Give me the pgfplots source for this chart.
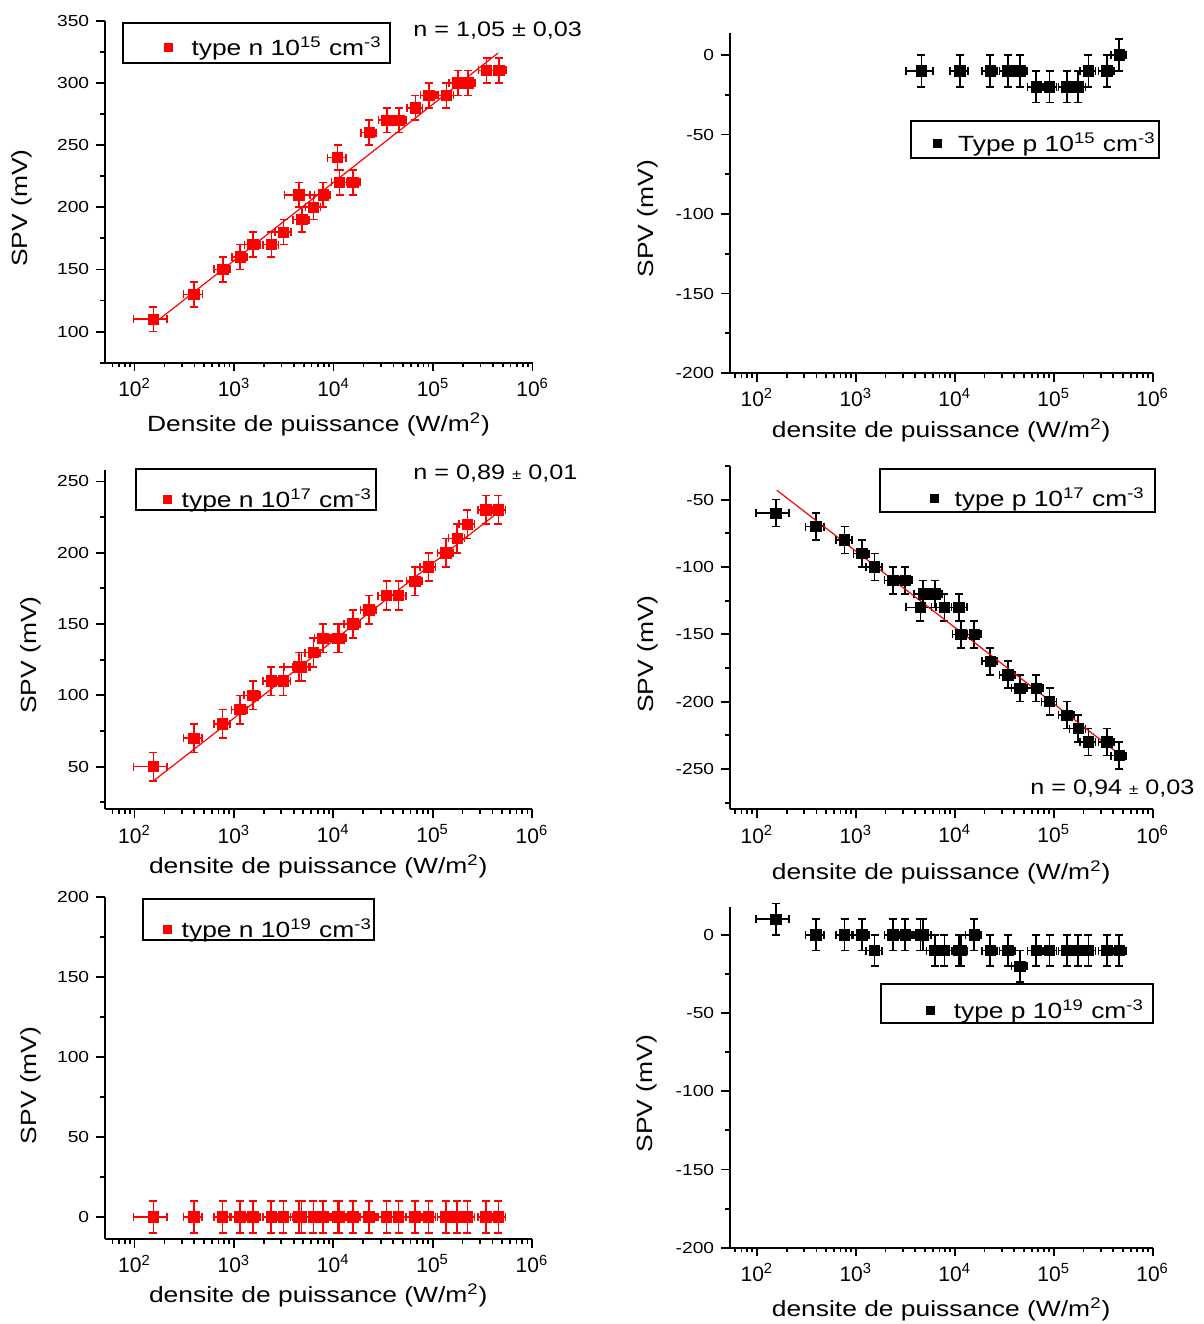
\documentclass[border=0pt]{standalone}
\usepackage{fontspec}
\setmainfont{Liberation Sans}[FakeStretch=1.2]
\newfontfamily\tickfont{Liberation Sans}
\usepackage{pgfplots}
\usepackage{pgfplotstable}
\pgfplotsset{compat=1.18}

% x, x error, SPV for n 1e15 (a), n 1e17 (c), p 1e17 (d), n 1e19 (e), p 1e19 (f)
\pgfplotstableread{
x ex ya yc yd ye yf
155 57 110 50 -60 0 10
395 85 130 70 -70 0 0
770 140 150 80 -80 0 0
1150 200 160 90 -90 0 0
1550 280 170 100 -100 0 -10
2370 420 170 110 -110 0 0
3150 560 180 110 -110 0 0
4500 1300 210 120 -130 0 0
4800 900 190 120 -120 0 0
6300 1100 200 130 -120 0 -10
7850 1400 210 140 -130 0 -10
11000 2300 240 140 -130 0 -10
11500 2000 220 140 -150 0 -10
15700 2800 220 150 -150 0 0
22800 4000 260 160 -170 0 -10
34500 6200 270 170 -180 0 -10
45500 8200 270 170 -190 0 -20
66500 12000 280 180 -190 0 -10
91000 16000 290 190 -200 0 -10
136000 24000 290 200 -210 0 -10
177000 32000 300 210 -220 0 -10
224000 40000 300 220 -230 0 -10
345000 60000 310 230 -230 0 -10
460000 80000 310 230 -240 0 -10
}\tmain
% p 1e15
\pgfplotstableread{
x ex y
4600 1400 -10
11300 2300 -10
22800 4000 -10
34500 6200 -10
45500 8200 -10
66500 12000 -20
91000 16000 -20
136000 24000 -20
177000 32000 -20
224000 40000 -10
345000 60000 -10
460000 80000 0
}\tpb

\pgfplotsset{every axis/.append style={
    scale only axis,
    axis lines=left,
    axis line style={line width=1pt,-},
    tick style={line width=0.9pt, black},
    tick align=outside,
    major tick length=4.2pt, minor tick length=2.3pt,
    xtick={1e2,1e3,1e4,1e5,1e6},
    xticklabels={10\textsuperscript{2},10\textsuperscript{3},10\textsuperscript{4},10\textsuperscript{5},10\textsuperscript{6}},
    minor xtick={60,70,80,90,200,300,400,500,600,700,800,900,2000,3000,4000,5000,6000,7000,8000,9000,20000,30000,40000,50000,60000,70000,80000,90000,200000,300000,400000,500000,600000,700000,800000,900000},
    ytick distance=50,
    minor y tick num=1,
    xticklabel style={font=\tickfont\fontsize{10.5}{12}\selectfont},
    yticklabel style={font=\fontsize{8}{10}\selectfont},
    /pgf/number format/assume math mode=true,
    ylabel={SPV (mV)},
    label style={font=\fontsize{11}{13}\selectfont},
    clip=false,
    legend image post style={mark size=2pt},
    legend style={draw=none, fill=none, anchor=west,
      font=\fontsize{11}{13}\selectfont},
}}

\begin{document}
\begin{tikzpicture}
\useasboundingbox (0,0) rectangle (602pt,-662pt);

% ---------- Panel 1: n 1e15
\begin{axis}[xmode=log, xmax=1e6, at={(52.3pt,-10.35pt)}, anchor=north west,
  width=214pt, height=171pt, xmin=50, ymin=75, ymax=350,
  xlabel={Densite de puissance (W/m\textsuperscript{2})},
  ylabel style={at={(axis description cs:-0.194,0.452)}, anchor=center},
  xlabel style={at={(axis description cs:0.5,-0.181)}, anchor=center},
  legend style={at={(axis description cs:0.125,0.921)}}]
\addplot[only marks, mark=square*, mark size=2.6pt, color=red,
    error bars/.cd, x dir=both, x explicit, y dir=both, y fixed=10,
    error bar style={line width=0.8pt},
    error mark options={rotate=90, mark size=2pt, line width=0.8pt}]
    table[x=x, y=ya, x error=ex]{\tmain};
\addlegendentry{\hspace{7.5pt}type n 10\textsuperscript{15} cm\textsuperscript{-3}}
\addplot[red, line width=0.6pt, forget plot] coordinates {(178,110) (450000,324)};
\draw[line width=1pt] (axis description cs:0.043,0.9924) rectangle (axis description cs:0.6667,0.8754);
\node[anchor=west, font=\fontsize{10.5}{12}\selectfont, inner sep=0pt] at (axis description cs:0.7204,0.9728) {n = 1,05 ± 0,03};
\end{axis}

% ---------- Panel 2: p 1e15
\begin{axis}[xmode=log, xmax=1e6, at={(364.8pt,-16.35pt)}, anchor=north west,
  width=211.5pt, height=170.2pt, xmin=53, ymin=-200, ymax=14,
  xlabel={densite de puissance (W/m\textsuperscript{2})},
  ylabel style={at={(axis description cs:-0.193,0.454)}, anchor=center},
  xlabel style={at={(axis description cs:0.5,-0.167)}, anchor=center},
  legend style={at={(axis description cs:0.466,0.675)}}]
\addplot[only marks, mark=square*, mark size=2.6pt, color=black,
    error bars/.cd, x dir=both, x explicit, y dir=both, y fixed=10,
    error bar style={line width=0.8pt},
    error mark options={rotate=90, mark size=2pt, line width=0.8pt}]
    table[x=x, y=y, x error=ex]{\tpb};
\addlegendentry{\hspace{6.5pt}Type p 10\textsuperscript{15} cm\textsuperscript{-3}}
\draw[line width=1pt] (axis description cs:0.4299,0.7414) rectangle (axis description cs:1.0149,0.6309);
\end{axis}

% ---------- Panel 3: n 1e17
\begin{axis}[xmode=log, xmax=1e6, at={(52.3pt,-235pt)}, anchor=north west,
  width=213.7pt, height=169.7pt, xmin=50, ymin=20, ymax=258,
  xlabel={densite de puissance (W/m\textsuperscript{2})},
  ylabel style={at={(axis description cs:-0.173,0.455)}, anchor=center},
  xlabel style={at={(axis description cs:0.5,-0.168)}, anchor=center},
  legend style={at={(axis description cs:0.122,0.9136)}}]
\addplot[only marks, mark=square*, mark size=2.6pt, color=red,
    error bars/.cd, x dir=both, x explicit, y dir=both, y fixed=10,
    error bar style={line width=0.8pt},
    error mark options={rotate=90, mark size=2pt, line width=0.8pt}]
    table[x=x, y=yc, x error=ex]{\tmain};
\addlegendentry{\hspace{3.3pt}type n 10\textsuperscript{17} cm\textsuperscript{-3}}
\addplot[red, line width=0.6pt, forget plot] coordinates {(155,40) (470000,229)};
\draw[line width=1pt] (axis description cs:0.0746,1.0029) rectangle (axis description cs:0.6345,0.8821);
\node[anchor=west, font=\fontsize{10.5}{12}\selectfont, inner sep=0pt] at (axis description cs:0.7216,0.991) {n = 0,89 {\fontsize{7}{8}\selectfont ±} 0,01};
\end{axis}

% ---------- Panel 4: p 1e17
\begin{axis}[xmode=log, xmax=1e6, at={(364.8pt,-233pt)}, anchor=north west,
  width=211.5pt, height=171.7pt, xmin=53, ymin=-280, ymax=-25,
  xlabel={densite de puissance (W/m\textsuperscript{2})},
  ylabel style={at={(axis description cs:-0.194,0.452)}, anchor=center},
  xlabel style={at={(axis description cs:0.5,-0.183)}, anchor=center},
  legend style={at={(axis description cs:0.46,0.9059)}}]
\addplot[only marks, mark=square*, mark size=2.6pt, color=black,
    error bars/.cd, x dir=both, x explicit, y dir=both, y fixed=10,
    error bar style={line width=0.8pt},
    error mark options={rotate=90, mark size=2pt, line width=0.8pt}]
    table[x=x, y=yd, x error=ex]{\tmain};
\addlegendentry{\hspace{6pt}type p 10\textsuperscript{17} cm\textsuperscript{-3}}
\addplot[red, line width=0.6pt, forget plot] coordinates {(159,-43) (460000,-239)};
\draw[line width=1pt] (axis description cs:0.3545,0.9913) rectangle (axis description cs:1.006,0.8669);
\node[anchor=west, font=\fontsize{10.5}{12}\selectfont, inner sep=0pt] at (axis description cs:0.71,0.062) {n = 0,94 {\fontsize{7}{8}\selectfont ±} 0,03};
\end{axis}

% ---------- Panel 5: n 1e19
\begin{axis}[xmode=log, xmax=1e6, at={(52.3pt,-448.65pt)}, anchor=north west,
  width=213.7pt, height=171pt, xmin=50, ymin=-14, ymax=200,
  xlabel={densite de puissance (W/m\textsuperscript{2})},
  ylabel style={at={(axis description cs:-0.173,0.45)}, anchor=center},
  xlabel style={at={(axis description cs:0.5,-0.163)}, anchor=center},
  legend style={at={(axis description cs:0.122,0.9064)}}]
\addplot[only marks, mark=square*, mark size=2.6pt, color=red,
    error bars/.cd, x dir=both, x explicit, y dir=both, y fixed=10,
    error bar style={line width=0.8pt},
    error mark options={rotate=90, mark size=2pt, line width=0.8pt}]
    table[x=x, y=ye, x error=ex]{\tmain};
\addlegendentry{\hspace{3.3pt}type n 10\textsuperscript{19} cm\textsuperscript{-3}}
\draw[line width=1pt] (axis description cs:0.0898,0.995) rectangle (axis description cs:0.6299,0.8753);
\end{axis}

% ---------- Panel 6: p 1e19
\begin{axis}[xmode=log, xmax=1e6, at={(364.8pt,-453.35pt)}, anchor=north west,
  width=211.5pt, height=170.5pt, xmin=53, ymin=-200, ymax=18,
  xlabel={densite de puissance (W/m\textsuperscript{2})},
  ylabel style={at={(axis description cs:-0.195,0.452)}, anchor=center},
  xlabel style={at={(axis description cs:0.5,-0.182)}, anchor=center},
  legend style={at={(axis description cs:0.45,0.695)}}]
\addplot[only marks, mark=square*, mark size=2.6pt, color=black,
    error bars/.cd, x dir=both, x explicit, y dir=both, y fixed=10,
    error bar style={line width=0.8pt},
    error mark options={rotate=90, mark size=2pt, line width=0.8pt}]
    table[x=x, y=yf, x error=ex]{\tmain};
\addlegendentry{\hspace{7.7pt}type p 10\textsuperscript{19} cm\textsuperscript{-3}}
\draw[line width=1pt] (axis description cs:0.359,0.7733) rectangle (axis description cs:1.0,0.6598);
\end{axis}
\end{tikzpicture}
\end{document}
